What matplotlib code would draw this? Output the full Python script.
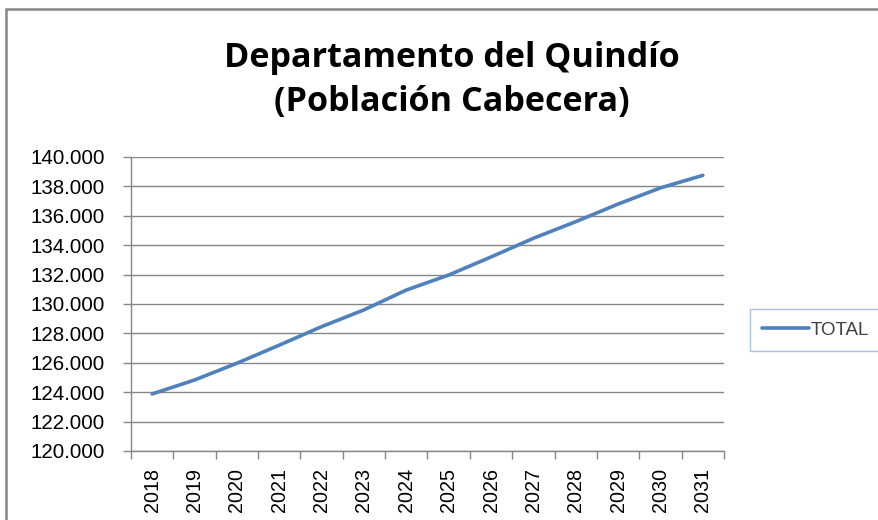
import matplotlib
matplotlib.use("Agg")
import matplotlib.pyplot as plt
from matplotlib.patches import Rectangle
from matplotlib.ticker import FuncFormatter, FixedLocator

plt.rcParams['font.family'] = ['Liberation Sans', 'DejaVu Sans']

# datos
years = ['2018', '2019', '2020', '2021', '2022', '2023', '2024',
         '2025', '2026', '2027', '2028', '2029', '2030', '2031']
total = [123880, 124830, 125970, 127200, 128460, 129600, 130950,
         131970, 133200, 134470, 135600, 136800, 137900, 138750]
y_ticks = list(range(120000, 140001, 2000))

W, H = 879, 520
fig = plt.figure(figsize=(W / 100, H / 100), dpi=100)
ax = fig.add_axes([131 / W, 1 - 451 / H, (724 - 131) / W, (451 - 157) / H])

x = list(range(len(years)))
ax.plot(x, total, color='#4F81BD', lw=2.6, label='TOTAL', solid_capstyle='round')

ax.set_xlim(-0.5, len(years) - 0.5)
ax.set_ylim(120000, 140000)
ax.set_yticks(y_ticks)
ax.yaxis.set_major_formatter(FuncFormatter(lambda v, p: f"{int(v):,}".replace(',', '.')))
ax.grid(axis='y', color='#868686', lw=1)
ax.set_axisbelow(True)

# ticks del eje x en los limites de cada categoria
ax.set_xticks(x)
ax.set_xticklabels(years, rotation=90)
ax.xaxis.set_minor_locator(FixedLocator([i - 0.5 for i in range(len(years) + 1)]))
ax.tick_params(axis='x', which='major', length=0, pad=12, labelsize=14.2)
ax.tick_params(axis='x', which='minor', length=5.5, color='#868686', width=1)
ax.tick_params(axis='y', length=6, color='#868686', width=1, labelsize=14.8, pad=13)

for side in ['top', 'right']:
    ax.spines[side].set_visible(False)
for side in ['left', 'bottom']:
    ax.spines[side].set_color('#868686')
    ax.spines[side].set_linewidth(1)

fig.text(452 / W, 1 - 80 / H, 'Departamento del Quindío\n(Población Cabecera)',
         ha='center', va='center', fontsize=24.6, fontweight='bold', linespacing=1.38,
         family=['Open Sans', 'DejaVu Sans'])

leg = ax.legend(loc='center left', bbox_to_anchor=(750 / W, 1 - 330 / H),
                bbox_transform=fig.transFigure, frameon=True, fancybox=False,
                fontsize=13.5, handlelength=2.5, handletextpad=0.1, borderpad=0.65,
                borderaxespad=0)
leg.get_frame().set_edgecolor('#95B3D7')
leg.get_frame().set_linewidth(1)
for t in leg.get_texts():
    t.set_color('#404040')

# marco exterior del grafico
fig.patches.append(Rectangle((6 / W, -0.1), 1.2, 1 - 9 / H + 0.1, transform=fig.transFigure,
                             fill=False, edgecolor='#868686', lw=1.8))

fig.savefig('out.png', dpi=100)
